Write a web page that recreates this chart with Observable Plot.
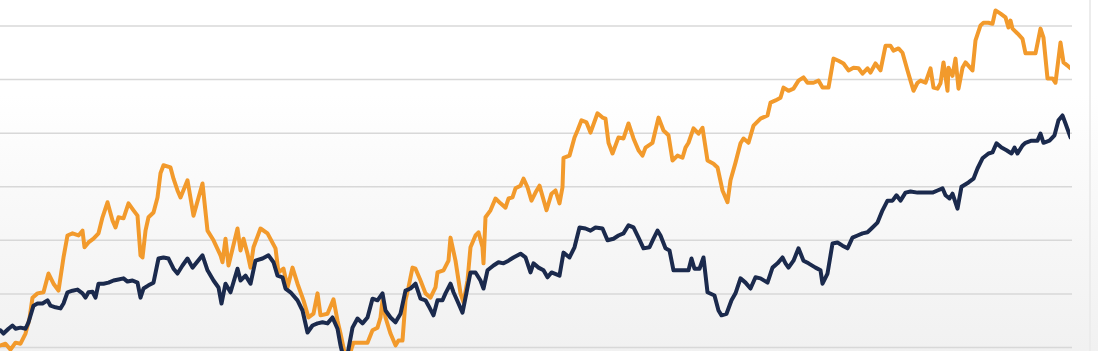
<!DOCTYPE html>
<html>
<head>
<meta charset="utf-8">
<script src="https://cdn.jsdelivr.net/npm/d3@7"></script>
<script src="https://cdn.jsdelivr.net/npm/@observablehq/plot@0.6"></script>
<style>
  html, body { margin: 0; padding: 0; background: #fff; overflow: hidden; }
  #chart {
    width: 1098px; height: 351px; position: relative;
    background:
      linear-gradient(to right, rgba(0,0,0,0) 1089px, #ececec 1089px, #ececec 1091px, rgba(0,0,0,0) 1091px),
      linear-gradient(to bottom, #ffffff 0%, #ffffff 27%, #f9f9f9 55%, #f1f1f1 100%);
  }
  #chart svg { background: transparent; display: block; }
</style>
</head>
<body>
<div id="chart"></div>
<script>
// Gridline levels (no labels shown in the reference)
const gridLevels = [0, 10, 20, 30, 40, 50, 60];

// Orange series: period index and value
const orangeT = [0,2.5,5,7.5,10,12.5,14.5,16,18.5,21.5,24,26.5,29,31.5,33.5,36,39,41,42,44,46.5,49,51,53.5,56,57.5,59,61.5,64,66.5,68.5,70,71,72.5,74,76.5,78.5,80,81.5,85,86.5,88.5,90,93.5,96.5,101,103.5,106.5,110,111,112.5,114,118.5,120,121.5,123.5,125,126.5,130,133.5,137.5,139,141.5,143.5,146,148.5,151.5,154,156.5,158.5,160,163.5,166.5,168.5,170,172,174,175.5,176.5,180,183.5,186,188.5,190,191,192.5,195,197.5,199,201,202.5,204,206,207.5,210,212.5,215,217.5,218.5,221.5,224,225,227.5,230,231.5,233.5,235,237.5,239,241,241.5,242.5,245,247.5,250,252.5,254,256,257.5,260,261.5,263.5,265.5,267.5,269.5,273,275.5,277.5,279.5,281,281.5,284.5,287,288.5,290.5,293,295,298.5,301,302.5,304,306,309,311.5,314,316.5,319,321,322.5,326,329,331.5,334,336,338.5,341,342.5,344,346.5,349,351,353.5,356.5,358.5,361,363.5,365,367.5,370,371.5,374,376.5,380,383.5,385,387.5,390,391.5,394,396.5,399,401.5,403.5,406.5,409,411,414,416.5,419,421.5,424,426.5,429,431,433.5,435,437.5,440,442.5,445,446.5,449,451,453.5,455,456.5,458.5,460,462.5,465,466.5,468.5,470,471.5,473.5,474,476,477.5,479,481,482.5,486,487.5,490,491.5,494,496,497.5,500,502.5,504,505,506,508.5,511,512.5,517.5,520,521.5,523.5,526,527.5,530,531.5,533.5,535];
const orangeV = [0.4,0.7,-0.4,0.9,0.7,2.6,5.4,9.3,10.1,10.3,13.8,11.9,10.6,16.8,20.9,21.3,20.9,21.8,18.7,19.6,20.3,21.3,24.3,27.1,23.7,22.4,24.3,24.1,26.9,25.6,24.6,17.2,16.8,21.8,24.3,25.2,28.0,32.5,34.0,33.6,31.5,29.3,28.0,31.2,24.6,30.6,21.8,20.0,17.2,15.9,20.3,15.3,22.2,18.1,20.3,17.5,14.9,18.7,22.2,21.3,18.5,14.0,14.7,11.2,14.9,11.9,8.8,5.6,6.3,10.1,6.0,6.3,9.0,5.0,2.6,-0.9,-2.4,-0.2,0.9,0.9,0.9,3.2,3.7,5.6,8.8,5.6,2.6,0.4,1.3,1.3,8.8,11.2,14.9,14.7,12.5,10.1,9.3,11.2,14.0,14.4,16.2,20.5,16.2,10.1,8.4,12.5,18.7,20.9,21.5,18.7,15.7,24.3,25.6,27.8,26.9,26.1,27.8,28.0,29.7,30.2,31.5,29.9,27.4,28.9,30.2,25.6,28.7,29.3,26.9,29.9,35.4,35.8,39.2,40.5,42.4,42.0,40.1,43.7,42.9,42.7,38.2,36.2,39.2,39.0,41.8,39.0,36.8,35.8,37.3,38.2,42.9,40.5,39.6,34.9,35.8,35.4,37.3,38.2,40.9,39.9,41.0,34.9,34.3,33.6,29.3,27.1,31.2,34.5,38.1,39.0,38.2,41.4,42.7,43.3,45.7,46.1,46.6,48.5,47.9,48.3,49.8,50.4,49.4,49.4,49.8,48.5,48.5,53.9,53.5,53.0,51.7,52.2,52.1,51.1,52.1,51.3,53.0,51.7,56.3,56.3,55.4,55.8,55.0,51.7,49.8,47.9,49.4,49.8,49.4,52.1,48.5,48.3,49.3,53.2,47.9,52.2,50.7,53.9,48.3,52.2,53.2,51.7,57.3,60.1,60.6,60.6,60.4,62.9,62.3,61.6,59.7,61.0,59.5,58.6,57.6,54.9,54.9,59.5,57.8,50.2,50.2,49.4,56.9,53.2,52.6,52.1];

// Navy series: period index and value
const navyT = [0,1.5,4,6,7.5,10,12.5,14,16.5,18.5,21,23.5,25,27.5,30,31.5,33.5,36,38.5,41,42.5,44,46,47.5,49,51.5,54,56.5,59,61.5,63.5,66,68.5,70,71.5,74,76.5,79,81.5,84,86.5,88.5,91,93.5,96,101,103.5,106.5,109,110.5,112.5,115,118.5,120,122.5,125,127.5,131,134,136.5,138.5,141,142.5,145,148.5,151,153.5,156,158.5,161,163.5,166,168.5,170,171.5,173.5,174.5,176,178.5,181,183.5,186,188.5,191,192.5,195,197.5,200,202.5,205,207.5,210,212.5,214,216.5,218.5,221,222.5,225,226.5,229,231,232.5,235,237.5,240,241.5,243.5,246.5,249,251.5,254,256.5,260,262.5,265,266.5,269,271.5,273.5,275.5,279.5,281.5,284.5,287,289.5,292.5,295,297.5,301,303.5,306.5,309,311.5,314,316.5,319,321.5,324.5,326.5,328.5,330,332.5,334.5,336.5,340,344,345.5,347,349.5,351.5,353.5,357,359,360.5,363,365.5,367.5,370,372.5,375,377.5,380,383.5,386,388.5,391,392.5,394,396.5,399,401.5,404,407.5,410,411,413.5,416,418.5,421,423.5,426,428.5,431,433.5,436,438.5,441,443.5,446,448,450,452.5,455,458.5,462.5,466,468.5,471,472.5,474.5,476,478.5,480.5,484,486.5,488.5,491,494,496,498,500.5,503,505.5,507,508.5,511,512.5,515.5,518.5,520,521.5,524.5,527,529,531,532.5,535];
const navyV = [3.2,2.6,3.5,4.1,3.5,3.7,3.5,4.7,7.8,8.2,8.2,8.8,7.8,7.5,7.3,8.2,10.3,10.6,10.8,10.1,9.3,10.3,10.4,9.3,11.9,11.9,12.1,12.5,12.7,12.9,12.3,12.5,12.1,9.3,11.0,11.6,12.1,16.6,16.8,16.6,14.7,13.8,15.3,16.6,14.9,17.2,14.4,12.5,11.2,8.2,11.9,10.3,14.7,12.5,13.4,11.9,16.2,16.6,17.2,15.9,13.4,13.1,11.0,10.3,8.8,6.9,2.8,4.1,4.5,4.7,4.5,5.6,3.5,0.4,-1.9,-1.3,0.7,3.7,5.4,4.5,5.6,9.1,8.8,10.1,6.9,5.6,4.7,6.3,10.6,11.0,11.9,9.1,8.8,7.8,6.0,8.8,8.8,10.1,11.9,10.3,8.2,6.5,9.3,14.0,14.0,12.5,11.0,14.4,15.3,15.9,15.7,16.2,16.8,17.5,16.8,14.0,15.7,14.9,14.4,13.1,14.0,13.4,17.7,16.8,18.7,22.4,22.2,21.8,22.4,22.2,20.0,20.3,20.9,21.3,22.8,22.4,20.5,18.5,18.7,20.3,21.8,20.9,18.5,18.1,14.4,14.4,14.4,16.6,14.7,14.7,16.8,10.3,9.7,6.9,6.0,6.3,8.8,10.1,12.9,12.1,11.0,13.1,12.9,12.1,14.9,15.7,16.8,15.7,14.9,16.2,18.5,16.2,15.7,14.9,14.4,11.9,13.8,19.4,19.6,19.0,18.5,20.5,20.9,21.3,21.5,22.4,23.3,25.6,27.4,27.4,28.4,27.4,28.9,29.1,28.9,28.9,28.9,29.3,29.7,28.4,27.8,28.7,25.9,30.0,30.8,31.5,33.4,35.3,36.2,36.4,38.1,37.3,36.8,36.2,37.3,36.2,37.7,38.2,38.6,38.6,39.9,38.2,38.6,39.6,42.4,43.3,41.8,39.2];

const orange = orangeT.map((t, i) => ({t, v: orangeV[i]}));
const navy = navyT.map((t, i) => ({t, v: navyV[i]}));

const chart = Plot.plot({
  width: 1098,
  height: 351,
  marginLeft: 0,
  marginRight: 28,
  marginTop: 0,
  marginBottom: 0,
  style: {background: "transparent"},
  x: {domain: [0, 535], axis: null},
  y: {domain: [-0.75, 64.75], axis: null},
  marks: [
    Plot.ruleY(gridLevels, {x1: 0, x2: 536, stroke: "#d8d8d8", strokeWidth: 1.5}),
    Plot.line(orange, {x: "t", y: "v", stroke: "#f29a2c", strokeWidth: 4, clip: true}),
    Plot.line(navy, {x: "t", y: "v", stroke: "#1b2a4d", strokeWidth: 4, clip: true})
  ]
});
document.getElementById("chart").appendChild(chart);
</script>
</body>
</html>
